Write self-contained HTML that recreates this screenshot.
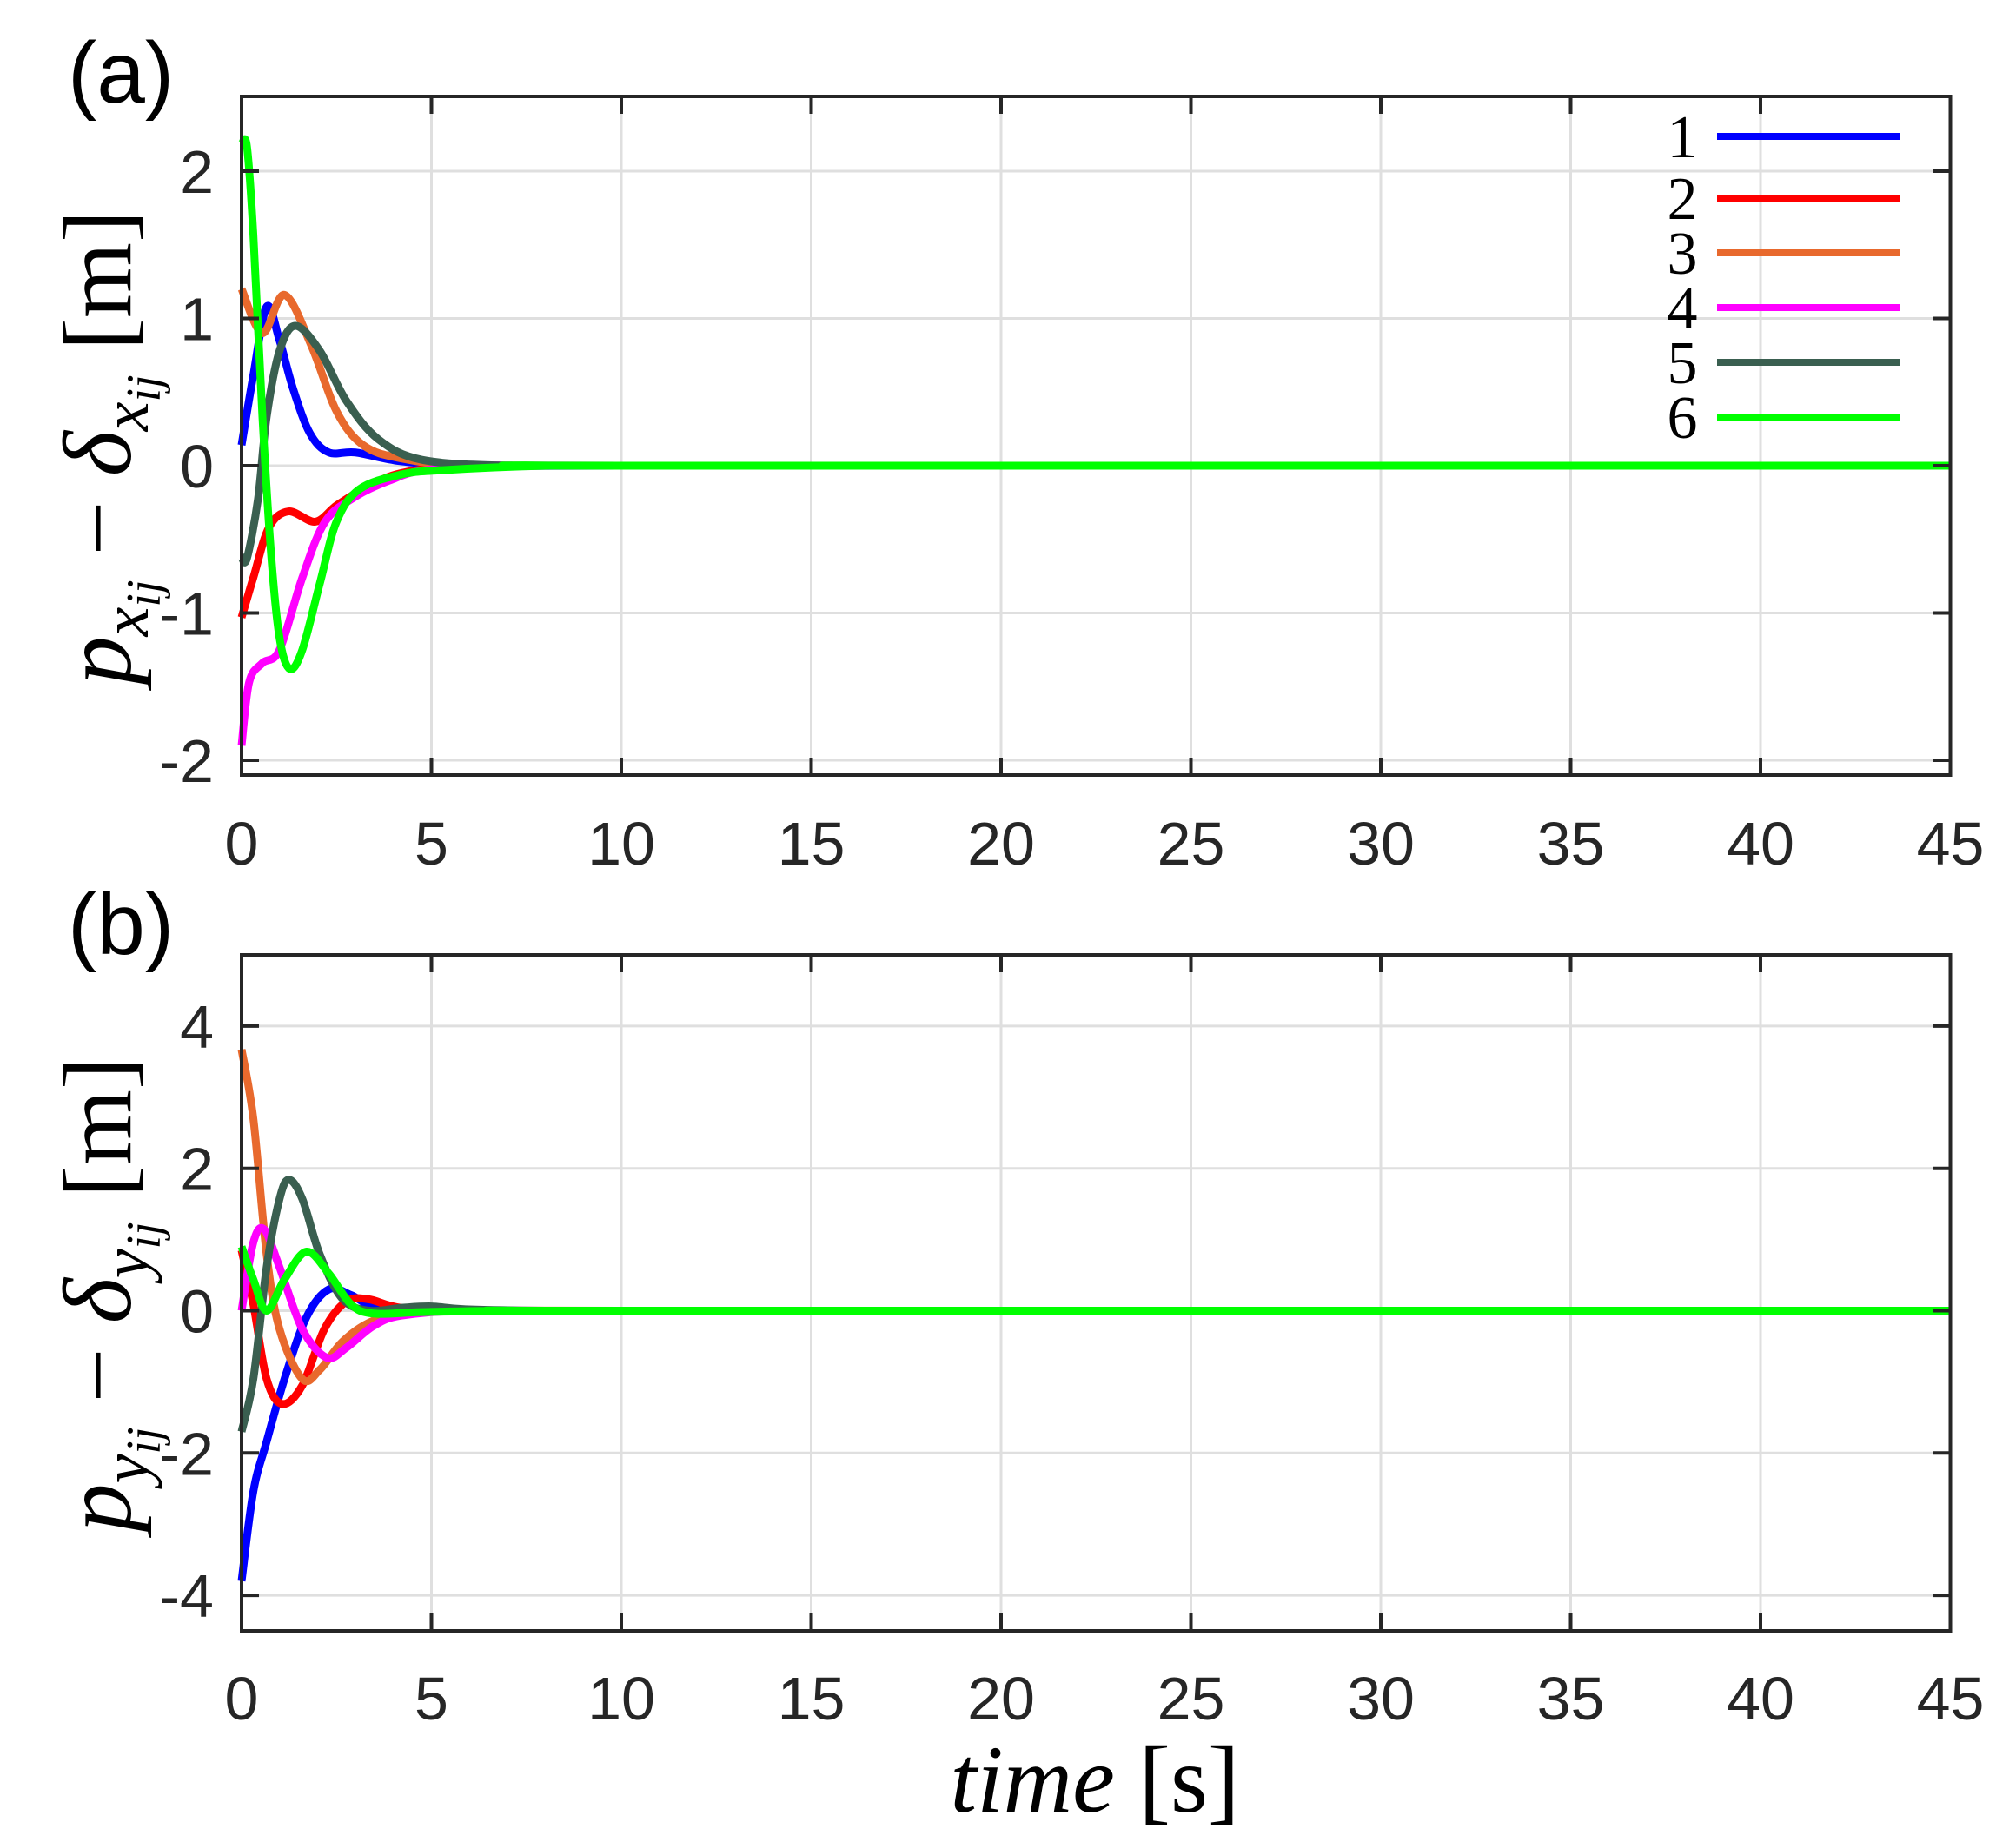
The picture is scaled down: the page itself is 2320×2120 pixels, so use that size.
<!DOCTYPE html>
<html><head><meta charset="utf-8"><style>
html,body{margin:0;padding:0;background:#fff;}
svg{display:block;}
.tk{font-family:"Liberation Sans",Arial,sans-serif;font-size:70px;fill:#262626;}
.ser{font-family:"Liberation Serif","DejaVu Serif",serif;}
</style></head><body>
<svg id="s" width="2320" height="2120" viewBox="0 0 2320 2120" xmlns="http://www.w3.org/2000/svg">
<text x="78" y="118" font-family="Liberation Sans, sans-serif" font-size="100" fill="#000">(a)</text>
<text x="78" y="1098" font-family="Liberation Sans, sans-serif" font-size="100" fill="#000">(b)</text>
<g transform="translate(150,515) rotate(-90)" class="ser" fill="#000" font-size="112" text-anchor="middle">
<text><tspan font-style="italic">p</tspan><tspan font-style="italic" font-size="76" dy="20">x</tspan><tspan font-style="italic" font-size="56" dy="14">ij</tspan><tspan dy="-34" font-size="112"> − </tspan><tspan font-style="italic">δ</tspan><tspan font-style="italic" font-size="76" dy="20">x</tspan><tspan font-style="italic" font-size="56" dy="14">ij</tspan><tspan dy="-34" font-size="112">  [m]</tspan></text>
</g>
<g transform="translate(150,1490) rotate(-90)" class="ser" fill="#000" font-size="112" text-anchor="middle">
<text><tspan font-style="italic">p</tspan><tspan font-style="italic" font-size="76" dy="20">y</tspan><tspan font-style="italic" font-size="56" dy="14">ij</tspan><tspan dy="-34" font-size="112"> − </tspan><tspan font-style="italic">δ</tspan><tspan font-style="italic" font-size="76" dy="20">y</tspan><tspan font-style="italic" font-size="56" dy="14">ij</tspan><tspan dy="-34" font-size="112">  [m]</tspan></text>
</g>
<text x="1260" y="2085" text-anchor="middle" class="ser" font-size="110" fill="#000"><tspan font-style="italic">time</tspan> [s]</text>
</svg>
<script>
const S=document.getElementById('s'),NS='http://www.w3.org/2000/svg';
function el(t,a,p){const e=document.createElementNS(NS,t);for(const k in a)e.setAttribute(k,a[k]);(p||S).appendChild(e);return e;}
const X0=278,XU=43.7,R=X0+45*XU;
function panel(top,bot,zero,unit,yticks,series,labY){
  const Y=v=>zero-unit*v,Xp=t=>X0+XU*t;
  for(let t=5;t<45;t+=5) el('line',{x1:Xp(t),x2:Xp(t),y1:top,y2:bot,stroke:'#dfdfdf','stroke-width':3});
  for(const v of yticks) el('line',{x1:X0,x2:R,y1:Y(v),y2:Y(v),stroke:'#dfdfdf','stroke-width':3});
  const cols=['#0000ff','#ff0000','#e8692d','#ff00ff','#3a5f50','#00ff00'];
  series.forEach((pts,i)=>{
    pts=pts.concat([[10,0],[45,0]]);
    const P=pts.map(p=>[Xp(p[0]),Y(p[1])]);
    let d='M'+P[0][0]+','+P[0][1];
    for(let k=0;k<P.length-1;k++){
      const p0=P[k-1]||P[k],p1=P[k],p2=P[k+1],p3=P[k+2]||p2;
      const c1=[p1[0]+(p2[0]-p0[0])/6,p1[1]+(p2[1]-p0[1])/6],c2=[p2[0]-(p3[0]-p1[0])/6,p2[1]-(p3[1]-p1[1])/6];
      d+=`C${c1[0]},${c1[1]} ${c2[0]},${c2[1]} ${p2[0]},${p2[1]}`;
    }
    el('path',{d,fill:'none',stroke:cols[i],'stroke-width':9,'stroke-linejoin':'round'});
  });
  el('rect',{x:X0,y:top,width:R-X0,height:bot-top,fill:'none',stroke:'#262626','stroke-width':4});
  for(let t=0;t<=45;t+=5){
    el('line',{x1:Xp(t),x2:Xp(t),y1:top,y2:top+20,stroke:'#262626','stroke-width':4});
    el('line',{x1:Xp(t),x2:Xp(t),y1:bot,y2:bot-20,stroke:'#262626','stroke-width':4});
    const tx=el('text',{x:Xp(t),y:labY,'text-anchor':'middle',class:'tk'});tx.textContent=t;
  }
  for(const v of yticks){
    el('line',{x1:X0,x2:X0+20,y1:Y(v),y2:Y(v),stroke:'#262626','stroke-width':4});
    el('line',{x1:R,x2:R-20,y1:Y(v),y2:Y(v),stroke:'#262626','stroke-width':4});
    const tx=el('text',{x:X0-32,y:Y(v)+25,'text-anchor':'end',class:'tk'});tx.textContent=v<0?'-'+(-v):v;
  }
}
panel(111,892,536,169.5,[2,1,0,-1,-2],[
 [[0,0.14],[0.3,0.6],[0.66,1.08],[1.0,0.85],[1.36,0.52],[1.8,0.22],[2.3,0.09],[3,0.09],[4.2,0.03],[6,0]],
 [[0,-1.03],[0.31,-0.76],[0.72,-0.42],[1.24,-0.31],[1.94,-0.38],[2.5,-0.27],[3.2,-0.16],[4.2,-0.05],[6,0]],
 [[0,1.2],[0.55,0.9],[1.13,1.16],[1.83,0.82],[2.5,0.37],[3.2,0.14],[4.2,0.05],[6,0]],
 [[0,-1.9],[0.2,-1.47],[0.55,-1.34],[1.0,-1.25],[1.6,-0.76],[2.2,-0.38],[3.0,-0.21],[3.9,-0.1],[4.85,-0.03],[7,0]],
 [[0,-0.62],[0.14,-0.63],[0.43,-0.23],[0.66,0.33],[1.0,0.78],[1.42,0.95],[2.06,0.78],[2.76,0.44],[3.6,0.18],[4.75,0.04],[7,0]],
 [[0,2.18],[0.14,2.17],[0.31,1.57],[0.55,0.33],[0.78,-0.61],[1.0,-1.17],[1.27,-1.38],[1.6,-1.25],[2.06,-0.8],[2.5,-0.38],[3.1,-0.16],[4.2,-0.06],[5.3,-0.03],[8,0]]
],995);
panel(1099,1877,1508.5,81.9,[4,2,0,-2,-4],[
 [[0,-3.8],[0.31,-2.54],[0.66,-1.84],[1.13,-0.96],[1.71,-0.09],[2.3,0.3],[2.88,0.22],[3.58,0.04],[5,0]],
 [[0,0.85],[0.31,0.09],[0.66,-0.96],[1.07,-1.31],[1.6,-1.05],[2.18,-0.26],[2.76,0.13],[3.35,0.16],[4.2,0.04],[6,0]],
 [[0,3.67],[0.31,2.7],[0.66,0.79],[1.0,-0.26],[1.6,-0.96],[2.06,-0.83],[2.65,-0.44],[3.35,-0.17],[4.2,-0.04],[6,0]],
 [[0,0],[0.31,0.96],[0.6,1.14],[1.0,0.61],[1.6,-0.26],[2.24,-0.66],[2.76,-0.52],[3.46,-0.22],[4.2,-0.07],[6,0]],
 [[0,-1.7],[0.31,-0.96],[0.66,0.61],[1.0,1.57],[1.25,1.84],[1.6,1.57],[2.06,0.79],[2.65,0.17],[3.35,0],[4.2,0.04],[5,0.06],[5.9,0.02],[8,0]],
 [[0,0.9],[0.31,0.44],[0.66,0.0],[1.13,0.44],[1.71,0.83],[2.3,0.52],[2.88,0.09],[3.46,-0.04],[4.75,-0.02],[7,0]]
],1979);
const cols=['#0000ff','#ff0000','#e8692d','#ff00ff','#3a5f50','#00ff00'];
[157,228,291,354,417,480].forEach((y,i)=>{
  el('line',{x1:1976,x2:2186,y1:y,y2:y,stroke:cols[i],'stroke-width':8});
  const t=el('text',{x:1936,y:y+24,'text-anchor':'middle',class:'ser','font-size':70,fill:'#000'});t.textContent=i+1;
});
</script>
</body></html>
